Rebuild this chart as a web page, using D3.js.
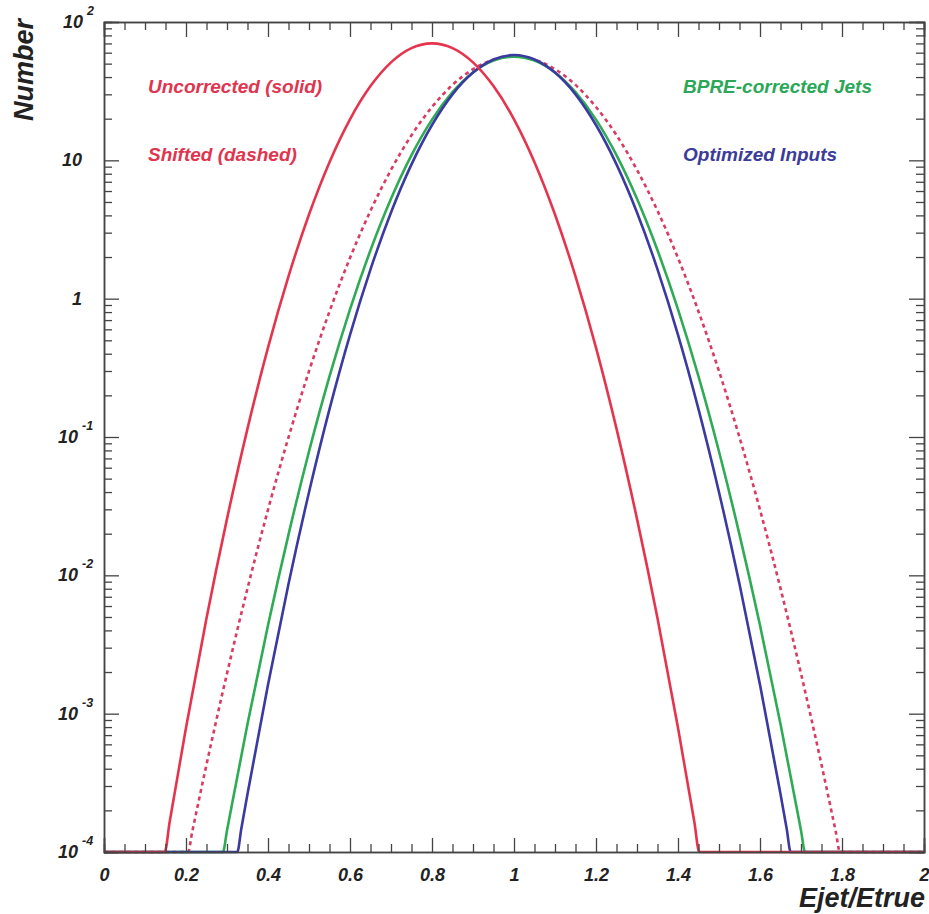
<!DOCTYPE html>
<html>
<head>
<meta charset="utf-8">
<script src="https://cdn.jsdelivr.net/npm/d3@7"></script>
<style>
  html, body { margin: 0; padding: 0; background: #fff; }
  svg { display: block; }
  text { font-family: "Liberation Sans", Arial, Helvetica, sans-serif; font-weight: bold; font-style: italic; }
</style>
</head>
<body>
<svg id="chart" width="929" height="914"></svg>
<script>
// Response distributions Ejet/Etrue (log scale), floor at 1e-4
const xTickValues = [0, 0.2, 0.4, 0.6, 0.8, 1.0, 1.2, 1.4, 1.6, 1.8, 2.0];
const xTickLabels = ["0", "0.2", "0.4", "0.6", "0.8", "1", "1.2", "1.4", "1.6", "1.8", "2"];
const yDecades = [1e2, 1e1, 1, 1e-1, 1e-2, 1e-3, 1e-4];
const yBase = ["10", "10", "1", "10", "10", "10", "10"];
const yExp = ["2", "", "", "-1", "-2", "-3", "-4"];

// Uncorrected (solid red)
const xUncorr = [0, 0.148, 0.16, 0.20, 0.25, 0.30, 0.35, 0.40, 0.45, 0.50, 0.55, 0.60, 0.65, 0.70, 0.75, 0.80,
  0.85, 0.90, 0.95, 1.00, 1.05, 1.10, 1.15, 1.20, 1.25, 1.30, 1.35, 1.40, 1.44, 1.452, 2];
const yUncorr = [1e-4, 1e-4, 1.64e-4, 7.9e-4, 4.9e-3, 0.0256, 0.115, 0.443, 1.45, 4.06, 9.70, 19.8, 34.4, 51.1, 64.8, 70.1,
  64.8, 51.1, 34.4, 19.8, 9.70, 4.06, 1.45, 0.443, 0.115, 0.0256, 4.9e-3, 7.9e-4, 1.64e-4, 1e-4, 1e-4];

// Shifted (dashed red)
const xShift = [0, 0.205, 0.215, 0.25, 0.30, 0.35, 0.40, 0.45, 0.50, 0.55, 0.60, 0.65, 0.70, 0.75, 0.80, 0.85, 0.90, 0.95, 1.00,
  1.05, 1.10, 1.15, 1.20, 1.25, 1.30, 1.35, 1.40, 1.45, 1.50, 1.55, 1.60, 1.65, 1.70, 1.75, 1.785, 1.795, 2];
const yShift = [1e-4, 1e-4, 1.39e-4, 4.28e-4, 1.95e-3, 8.04e-3, 0.0298, 0.0994, 0.299, 0.808, 1.97, 4.32, 8.53, 15.2, 24.3, 35.1, 45.6, 53.4, 56.2,
  53.4, 45.6, 35.1, 24.3, 15.2, 8.53, 4.32, 1.97, 0.808, 0.299, 0.0994, 0.0298, 8.04e-3, 1.95e-3, 4.28e-4, 1.39e-4, 1e-4, 1e-4];

// BPRE-corrected jets (green)
const xBpre = [0, 0.29, 0.30, 0.35, 0.40, 0.45, 0.50, 0.55, 0.60, 0.65, 0.70, 0.75, 0.80, 0.85, 0.90, 0.95, 1.00,
  1.05, 1.10, 1.15, 1.20, 1.25, 1.30, 1.35, 1.40, 1.45, 1.50, 1.55, 1.60, 1.65, 1.70, 1.71, 2];
const yBpre = [1e-4, 1e-4, 1.43e-4, 8.41e-4, 4.35e-3, 0.0197, 0.0785, 0.274, 0.837, 2.24, 5.27, 10.9, 19.7, 31.1, 43.2, 52.7, 56.2,
  52.7, 43.2, 31.1, 19.7, 10.9, 5.27, 2.24, 0.837, 0.274, 0.0785, 0.0197, 4.35e-3, 8.41e-4, 1.43e-4, 1e-4, 1e-4];

// Optimized inputs (blue)
const xOpt = [0, 0.325, 0.335, 0.35, 0.40, 0.45, 0.50, 0.55, 0.60, 0.65, 0.70, 0.75, 0.80, 0.85, 0.90, 0.95, 1.00,
  1.05, 1.10, 1.15, 1.20, 1.25, 1.30, 1.35, 1.40, 1.45, 1.50, 1.55, 1.60, 1.65, 1.665, 1.675, 2];
const yOpt = [1e-4, 1e-4, 1.48e-4, 2.63e-4, 1.62e-3, 8.66e-3, 0.0399, 0.159, 0.548, 1.63, 4.20, 9.35, 18.0, 30.0, 43.1, 53.6, 57.7,
  53.6, 43.1, 30.0, 18.0, 9.35, 4.20, 1.63, 0.548, 0.159, 0.0399, 8.66e-3, 1.62e-3, 2.63e-4, 1.48e-4, 1e-4, 1e-4];

const series = [
  { name: "Shifted (dashed)", xs: xShift, ys: yShift, color: "#d83c62", dash: "4,3.6" },
  { name: "BPRE-corrected Jets", xs: xBpre, ys: yBpre, color: "#2fab55", dash: null },
  { name: "Optimized Inputs", xs: xOpt, ys: yOpt, color: "#3a3aa0", dash: null },
  { name: "Uncorrected (solid)", xs: xUncorr, ys: yUncorr, color: "#e5344d", dash: null }
];

const legendItems = [
  { text: "Uncorrected (solid)", color: "#e0344f", x: 148, y: 93 },
  { text: "Shifted (dashed)", color: "#e0344f", x: 148, y: 161 },
  { text: "BPRE-corrected Jets", color: "#2aa857", x: 683, y: 93 },
  { text: "Optimized Inputs", color: "#3b3c9a", x: 683, y: 161 }
];

const plotLeft = 104, plotRight = 924, plotTop = 22, plotBottom = 852;
const svg = d3.select("#chart");
const x = d3.scaleLinear().domain([0, 2]).range([plotLeft, plotRight]);
const y = d3.scaleLog().domain([1e-4, 1e2]).range([plotBottom, plotTop]);

const axisColor = "#444";

// curves, clipped to plot frame
svg.append("clipPath").attr("id", "plot").append("rect")
  .attr("x", plotLeft).attr("y", plotTop - 2).attr("width", plotRight - plotLeft).attr("height", plotBottom - plotTop + 4);

const line = d3.line().x(d => x(d[0])).y(d => y(d[1])).curve(d3.curveMonotoneX);
const g = svg.append("g").attr("clip-path", "url(#plot)");
series.forEach(s => {
  g.append("path")
    .datum(s.xs.map((v, i) => [v, s.ys[i]]))
    .attr("d", line)
    .attr("fill", "none")
    .attr("stroke", s.color)
    .attr("stroke-width", 2.6)
    .attr("stroke-dasharray", s.dash)
    .attr("stroke-linejoin", "round");
});

// minor tick values
const xMinor = d3.range(0, 41).map(i => i * 0.05).filter(v => Math.abs(v * 5 - Math.round(v * 5)) > 1e-6);
const yMinor = [];
[1e-4, 1e-3, 1e-2, 1e-1, 1, 10].forEach(dec => { for (let m = 2; m <= 9; m++) yMinor.push(dec * m); });

function styleAxis(sel) {
  sel.select(".domain").attr("stroke", axisColor).attr("stroke-width", 1.5);
  sel.selectAll(".tick line").attr("stroke", axisColor).attr("stroke-width", 1.3);
}

// bottom axis with labels
const bAxis = svg.append("g").attr("transform", `translate(0,${plotBottom})`)
  .call(d3.axisBottom(x).tickValues(xTickValues).tickSize(-14).tickPadding(16)
    .tickFormat((d, i) => xTickLabels[i]));
styleAxis(bAxis);
bAxis.selectAll("text").attr("font-size", 18).attr("fill", "#222")
  .attr("font-family", "Liberation Sans, Arial, sans-serif");
svg.append("g").attr("transform", `translate(0,${plotBottom})`)
  .call(d3.axisBottom(x).tickValues(xMinor).tickSize(-8).tickFormat(""))
  .call(styleAxis);

// top axis
svg.append("g").attr("transform", `translate(0,${plotTop})`)
  .call(d3.axisTop(x).tickValues(xTickValues).tickSize(-15).tickFormat(""))
  .call(styleAxis);
svg.append("g").attr("transform", `translate(0,${plotTop})`)
  .call(d3.axisTop(x).tickValues(xMinor).tickSize(-8).tickFormat(""))
  .call(styleAxis);

// left axis
svg.append("g").attr("transform", `translate(${plotLeft},0)`)
  .call(d3.axisLeft(y).tickValues(yDecades).tickSize(-15).tickFormat(""))
  .call(styleAxis);
svg.append("g").attr("transform", `translate(${plotLeft},0)`)
  .call(d3.axisLeft(y).tickValues(yMinor).tickSize(-8).tickFormat(""))
  .call(styleAxis);

// right axis
svg.append("g").attr("transform", `translate(${plotRight},0)`)
  .call(d3.axisRight(y).tickValues(yDecades).tickSize(-15).tickFormat(""))
  .call(styleAxis);
svg.append("g").attr("transform", `translate(${plotRight},0)`)
  .call(d3.axisRight(y).tickValues(yMinor).tickSize(-8).tickFormat(""))
  .call(styleAxis);

// y tick labels: 10 with superscript exponents
yDecades.forEach((d, i) => {
  const yy = y(d);
  if (yExp[i]) {
    const exLen = yExp[i].length;
    const baseEnd = exLen > 1 ? 78 : 83;
    svg.append("text").attr("x", baseEnd).attr("y", yy + 6)
      .attr("text-anchor", "end").attr("font-size", 18).attr("fill", "#222").text(yBase[i]);
    svg.append("text").attr("x", baseEnd + 4).attr("y", yy - 7)
      .attr("text-anchor", "start").attr("font-size", 12.5).attr("fill", "#222").text(yExp[i]);
  } else {
    svg.append("text").attr("x", 82).attr("y", yy + 6)
      .attr("text-anchor", "end").attr("font-size", 18).attr("fill", "#222").text(yBase[i]);
  }
});

// axis titles
svg.append("text").attr("x", 925).attr("y", 907).attr("text-anchor", "end")
  .attr("font-size", 27).attr("fill", "#222").text("Ejet/Etrue");
svg.append("text").attr("transform", "translate(33,19) rotate(-90)").attr("text-anchor", "end")
  .attr("font-size", 27).attr("fill", "#222").text("Number");

// legend labels
legendItems.forEach(l => {
  svg.append("text").attr("x", l.x).attr("y", l.y).attr("font-size", 19)
    .attr("fill", l.color).text(l.text);
});
</script>
</body>
</html>
